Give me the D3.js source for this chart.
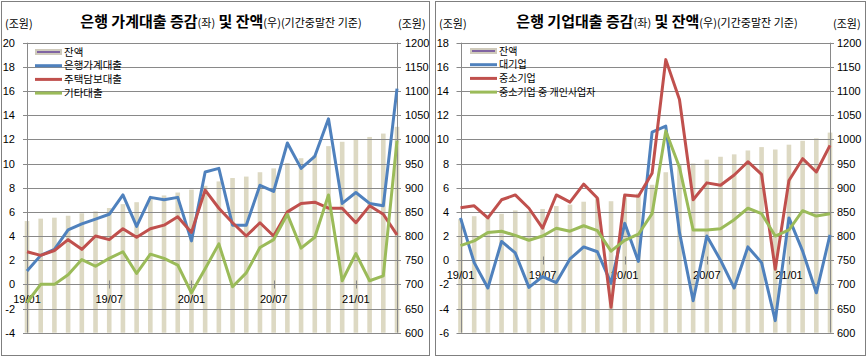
<!DOCTYPE html>
<html>
<head>
<meta charset="utf-8">
<script src="https://cdn.jsdelivr.net/npm/d3@7"></script>
<style>
body { margin: 0; background: #fff; }
svg { display: block; font-family: "Noto Sans CJK KR", sans-serif; }
</style>
</head>
<body>
<script>
var months = ["19/01","19/02","19/03","19/04","19/05","19/06","19/07","19/08","19/09","19/10","19/11","19/12",
  "20/01","20/02","20/03","20/04","20/05","20/06","20/07","20/08","20/09","20/10","20/11","20/12",
  "21/01","21/02","21/03","21/04"]
var labelMonths = ["19/01","19/07","20/01","20/07","21/01"]

var hhTicks = [-4,-2,0,2,4,6,8,10,12,14,16,18,20]
var corpTicks = [-6,-4,-2,0,2,4,6,8,10,12,14,16,18]
var balanceTicks = [600,650,700,750,800,850,900,950,1000,1050,1100,1150,1200]

// 가계대출 (조원)
var hhBalance = [831,836,838,842,847,851,858,866,870,879,884,890,896,904,913,920,923,932,940,951,961,967,986,995,1000,1005,1012,1026]
var hhTotal = [1.1,2.4,2.9,4.5,5.0,5.4,5.8,7.4,4.8,7.2,7.0,7.2,3.6,9.3,9.6,4.9,4.9,8.2,7.7,11.7,9.6,10.6,13.7,6.7,7.6,6.7,6.5,16.2]
var hhMortgage = [2.7,2.4,2.8,3.7,2.9,4.0,3.7,4.6,3.9,4.6,4.9,5.6,4.3,7.8,6.3,5.1,4.0,5.1,4.0,6.0,6.7,6.8,6.3,6.3,5.1,6.5,5.8,4.1]
var hhOther = [-1.5,0.0,0.0,0.8,2.05,1.5,2.15,2.7,0.9,2.5,2.15,1.6,-0.7,1.3,3.35,-0.2,0.95,3.05,3.7,5.8,3.0,3.9,7.4,0.3,2.55,0.3,0.7,11.9]

// 기업대출 (조원)
var corpBalance = [835,841,840,846,853,851,856,862,865,871,878,872,880,888,906,932,947,950,958,964,969,977,984,979,989,997,1002,1014]
var corpLarge = [3.5,-0.2,-2.3,1.55,0.6,-2.25,-1.35,-1.85,0.1,1.1,0.7,-1.9,3.05,-0.1,10.6,11.1,2.3,-3.35,2.0,0.0,-2.3,1.1,-0.2,-5.0,3.5,0.75,-2.7,2.1]
var corpSme = [4.35,4.5,3.5,5.0,5.4,4.3,2.65,5.4,4.8,6.3,5.15,-3.9,5.4,5.3,7.2,16.6,13.3,5.0,6.4,6.2,7.05,8.15,7.1,-0.75,6.6,8.4,7.3,9.5]
var corpSoho = [1.2,1.6,2.3,2.4,2.05,1.65,2.0,2.65,2.4,2.85,2.45,0.75,1.65,2.15,3.85,10.7,7.7,2.5,2.5,2.6,3.35,4.3,3.85,2.0,2.5,4.1,3.65,3.85]

var W = 867, H = 358
var plotTop = 42.7, plotBottom = 332.7
var barColor = "#ddd9c3", gridColor = "#898989"

var svg = d3.select("body").append("svg")
  .attr("width", W)
  .attr("height", H)

function drawPanel(p) {
  var g = svg.append("g")

  g.append("rect")
    .attr("x", p.frame[0] + 0.5)
    .attr("y", 1.5)
    .attr("width", p.frame[1] - p.frame[0])
    .attr("height", 354)
    .attr("fill", "none")
    .attr("stroke", "#7f7f7f")

  var x = d3.scalePoint().domain(months).range([p.x0, p.x1])
  var yL = d3.scaleLinear().domain(d3.extent(p.ticks)).range([plotBottom, plotTop])
  var yR = d3.scaleLinear().domain(d3.extent(balanceTicks)).range([plotBottom, plotTop])

  // bars (잔액, right axis)
  g.append("g").selectAll("rect")
    .data(p.balance)
    .enter().append("rect")
      .attr("x", function(d, i) { return x(months[i]) - 2.3 })
      .attr("width", 4.6)
      .attr("y", function(d) { return yR(d) })
      .attr("height", function(d) { return yR(600) - yR(d) })
      .attr("fill", barColor)

  // gridlines
  g.append("g").selectAll("line")
    .data(p.ticks)
    .enter().append("line")
      .attr("x1", p.x0 - 4)
      .attr("x2", p.x1 + 4)
      .attr("y1", function(d) { return Math.round(yL(d)) + 0.5 })
      .attr("y2", function(d) { return Math.round(yL(d)) + 0.5 })
      .attr("stroke", gridColor)

  // vertical axis lines
  ;[p.x0, p.x1].forEach(function(xx) {
    g.append("line")
      .attr("x1", Math.round(xx) + 0.5).attr("x2", Math.round(xx) + 0.5)
      .attr("y1", plotTop).attr("y2", plotBottom)
      .attr("stroke", gridColor)
  })

  // left axis labels
  var left = g.append("g")
    .attr("transform", "translate(" + p.leftLabelX + ",0)")
    .call(d3.axisLeft(yL).tickValues(p.ticks).tickSize(0).tickPadding(0)
      .tickFormat(function(d) { return String(d) }))
  left.select(".domain").remove()
  left.selectAll("text").attr("font-size", 11).attr("fill", "#000")
    .attr("font-family", "Liberation Sans, sans-serif")

  // right axis labels
  var right = g.append("g")
    .attr("transform", "translate(" + p.rightLabelX + ",0)")
    .call(d3.axisRight(yR).tickValues(balanceTicks).tickSize(0).tickPadding(0)
      .tickFormat(function(d) { return String(d) }))
  right.select(".domain").remove()
  right.selectAll("text").attr("font-size", 11).attr("fill", "#000")
    .attr("font-family", "Liberation Sans, sans-serif")

  // category axis ticks + labels at zero line
  var y0 = Math.round(yL(0)) + 0.5
  g.append("g").selectAll("line")
    .data(labelMonths)
    .enter().append("line")
      .attr("x1", function(d) { return Math.round(x(d)) + 0.5 })
      .attr("x2", function(d) { return Math.round(x(d)) + 0.5 })
      .attr("y1", y0 - 4)
      .attr("y2", y0 + 4)
      .attr("stroke", gridColor)

  g.append("g").selectAll("text")
    .data(labelMonths)
    .enter().append("text")
      .attr("x", function(d) { return x(d) })
      .attr("y", y0 + 18)
      .attr("text-anchor", "middle")
      .attr("font-size", 11)
      .attr("font-family", "Liberation Sans, sans-serif")
      .text(function(d) { return d })

  // lines
  var line = d3.line()
    .x(function(d, i) { return x(months[i]) })
    .y(function(d) { return yL(d) })

  p.series.forEach(function(s) {
    g.append("path")
      .datum(s.values)
      .attr("d", line)
      .attr("fill", "none")
      .attr("stroke", s.color)
      .attr("stroke-width", 3)
      .attr("stroke-linejoin", "round")
  })

  // title
  var title = g.append("text")
    .attr("x", p.titleX)
    .attr("y", 27)
    .attr("text-anchor", "middle")
  title.append("tspan").attr("font-size", 15).attr("font-weight", "bold").text(p.title)
  title.append("tspan").attr("font-size", 11).text("(좌)")
  title.append("tspan").attr("font-size", 15).attr("font-weight", "bold").text(" 및 잔액")
  title.append("tspan").attr("font-size", 11).text("(우)(기간중말잔 기준)")

  g.append("text").attr("x", p.frame[0] + 4).attr("y", 28).attr("font-size", 11).text("(조원)")
  g.append("text").attr("x", p.unitRightX).attr("y", 28).attr("font-size", 11).text("(조원)")

  // legend
  var leg = g.append("g").selectAll("g")
    .data(p.legend)
    .enter().append("g")
      .attr("transform", function(d, i) { return "translate(" + p.legendX + "," + (p.legendY + i * p.legendStep) + ")" })

  leg.each(function(d, i) {
    var item = d3.select(this)
    if (i === 0) {
      item.append("rect").attr("x", 0).attr("y", -3).attr("width", 27).attr("height", 6).attr("fill", "#cfcabb")
      item.append("line").attr("x1", 2).attr("x2", 25).attr("stroke", "#8064a2").attr("stroke-width", 2)
    } else {
      item.append("line").attr("x1", 0).attr("x2", 27)
        .attr("stroke", p.series[i - 1].color).attr("stroke-width", 3)
    }
    item.append("text").attr("x", 29).attr("dy", "0.36em")
      .attr("font-size", p.legendFont).text(d)
  })
}

drawPanel({
  frame: [1, 429],
  x0: 27, x1: 397,
  ticks: hhTicks,
  leftLabelX: 15, rightLabelX: 405, unitRightX: 398,
  balance: hhBalance,
  series: [
    { values: hhTotal, color: "#4f81bd" },
    { values: hhMortgage, color: "#c0504d" },
    { values: hhOther, color: "#9bbb59" }
  ],
  title: "은행 가계대출 증감", titleX: 221,
  legend: ["잔액", "은행가계대출", "주택담보대출", "기타대출"],
  legendX: 35, legendY: 52, legendStep: 13.7, legendFont: 10.5
})

drawPanel({
  frame: [435, 865],
  x0: 460.5, x1: 830,
  ticks: corpTicks,
  leftLabelX: 449, rightLabelX: 837, unitRightX: 833,
  balance: corpBalance,
  series: [
    { values: corpLarge, color: "#4f81bd" },
    { values: corpSme, color: "#c0504d" },
    { values: corpSoho, color: "#9bbb59" }
  ],
  title: "은행 기업대출 증감", titleX: 657,
  legend: ["잔액", "대기업", "중소기업", "중소기업 중 개인사업자"],
  legendX: 470, legendY: 51, legendStep: 13.7, legendFont: 10
})
</script>
</body>
</html>
